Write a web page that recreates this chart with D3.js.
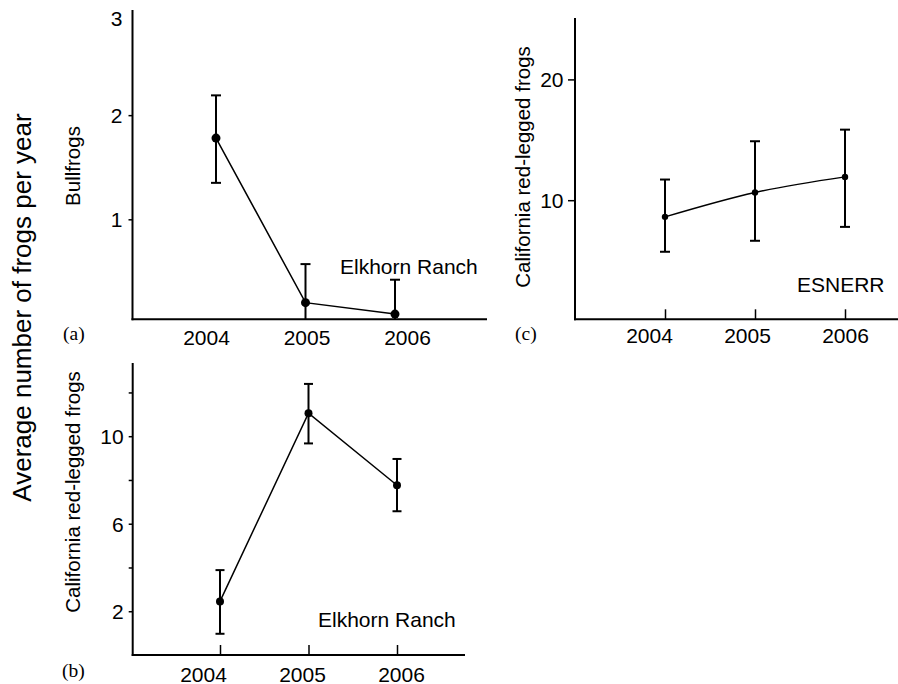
<!DOCTYPE html>
<html>
<head>
<meta charset="utf-8">
<script src="https://cdn.jsdelivr.net/npm/d3@7/dist/d3.min.js"></script>
<style>
  html, body { margin: 0; padding: 0; background: #fff; }
  svg { display: block; }
  text { fill: #000; }
</style>
</head>
<body>
<svg id="chart" width="898" height="684"></svg>
<script>
// ---------------- DATA ----------------
const years = [2004, 2005, 2006];

// (a) Bullfrogs, Elkhorn Ranch
const bullMean  = [1.78, 0.20, 0.09];
const bullUpper = [2.19, 0.57, 0.42];
const bullLower = [1.35, -0.17, -0.24];
const bullTicks = [1, 2, 3];
const bullTickLabels = [1, 2, 3];

// (b) California red-legged frogs, Elkhorn Ranch
const elkMean  = [2.45, 11.05, 7.76];
const elkUpper = [3.88, 12.39, 8.96];
const elkLower = [0.97, 9.67, 6.57];
const elkTicks = [2, 4, 6, 8, 10, 12];
const elkTickLabels = [2, 6, 10];

// (c) California red-legged frogs, ESNERR
const esMean  = [8.62, 10.64, 11.93];
const esUpper = [11.71, 14.88, 15.84];
const esLower = [5.73, 6.64, 7.79];
const esTicks = [10, 20];
const esTickLabels = [10, 20];

// ---------------- LAYOUT ----------------
const SANS = "'Liberation Sans', Arial, Helvetica, sans-serif";
const SERIF = "'Liberation Serif', 'Times New Roman', serif";
const svg = d3.select("#chart");

const panels = [
  {
    mean: bullMean, upper: bullUpper, lower: bullLower,
    ticks: bullTicks, tickLabels: bullTickLabels, tickMarks: [1, 2],
    yDomain: [0.04, 3], axisX: 132.5, axisY: 319.3, axisTop: 10, axisRight: 487,
    xTick: [216, 395], xLabel: [206, 407], xTickLen: 0, yTickLen: 4, yLabelGap: 10,
    tickBaseline: 345, r: 4.5, cap: 5, curve: d3.curveLinear,
    title: "Bullfrogs", titleX: 79.5, titleY: 166,
    note: "Elkhorn Ranch", noteX: 340, noteY: 274,
    tag: "(a)", tagX: 63, tagY: 340
  },
  {
    mean: elkMean, upper: elkUpper, lower: elkLower,
    ticks: elkTicks, tickLabels: elkTickLabels, tickMarks: elkTicks,
    yDomain: [0, 13.3], axisX: 132.7, axisY: 655, axisTop: 363, axisRight: 465,
    xTick: [220, 397], xLabel: [203, 401], xTickLen: 10, yTickLen: 4, yLabelGap: 9,
    tickBaseline: 681.5, r: 4, cap: 4.5, curve: d3.curveLinear,
    title: "California red-legged frogs", titleX: 79.5, titleY: 492,
    note: "Elkhorn Ranch", noteX: 318, noteY: 627,
    tag: "(b)", tagX: 62, tagY: 676.5
  },
  {
    mean: esMean, upper: esUpper, lower: esLower,
    ticks: esTicks, tickLabels: esTickLabels, tickMarks: esTicks,
    yDomain: [0.14, 25], axisX: 575, axisY: 319.3, axisTop: 18, axisRight: 898,
    xTick: [665, 845], xLabel: [649, 845], xTickLen: 10, yTickLen: 7, yLabelGap: 11.5,
    tickBaseline: 343, r: 3.2, cap: 5, curve: d3.curveMonotoneX,
    title: "California red-legged frogs", titleX: 529.5, titleY: 167,
    note: "ESNERR", noteX: 797, noteY: 291.5,
    tag: "(c)", tagX: 515, tagY: 340
  }
];

panels.forEach(p => {
  const g = svg.append("g");
  const x = d3.scaleLinear().domain([years[0], years[2]]).range(p.xTick);
  const xl = d3.scaleLinear().domain([years[0], years[2]]).range(p.xLabel);
  const y = d3.scaleLinear().domain(p.yDomain).range([p.axisY, p.axisTop + 1]);

  // axis lines
  g.append("line")
    .attr("x1", p.axisX).attr("x2", p.axisX)
    .attr("y1", p.axisTop).attr("y2", p.axisY + 1)
    .attr("stroke", "#000").attr("stroke-width", 2);
  g.append("line")
    .attr("x1", p.axisX - 1).attr("x2", p.axisRight)
    .attr("y1", p.axisY).attr("y2", p.axisY)
    .attr("stroke", "#000").attr("stroke-width", 2);

  // y axis ticks + labels
  const yAxis = d3.axisLeft(y)
    .tickValues(p.ticks)
    .tickSizeInner(p.yTickLen).tickSizeOuter(0)
    .tickPadding(p.yLabelGap - p.yTickLen)
    .tickFormat(d => p.tickLabels.includes(d) ? d3.format("d")(d) : "");
  const ya = g.append("g").attr("transform", `translate(${p.axisX},0)`).call(yAxis);
  ya.select(".domain").remove();
  ya.selectAll(".tick line").attr("stroke", "#000").attr("stroke-width", 1.5)
    .attr("display", d => p.tickMarks.includes(d) ? null : "none");
  ya.selectAll(".tick text")
    .attr("font-family", SANS).attr("font-size", 21).attr("fill", "#000")
    .attr("x", -p.yLabelGap)
    .attr("dy", function(d) {
      const ty = y(d);
      const minY = p.axisTop + 8;
      return ty < minY ? (minY - ty + 7) + "px" : "0.35em";
    });

  // x axis ticks + labels
  const xAxis = d3.axisBottom(x)
    .tickValues(years)
    .tickSizeInner(-p.xTickLen).tickSizeOuter(0)
    .tickFormat(d3.format("d"));
  const xa = g.append("g").attr("transform", `translate(0,${p.axisY})`).call(xAxis);
  xa.select(".domain").remove();
  xa.selectAll(".tick line").attr("stroke", "#000").attr("stroke-width", 1.5)
    .attr("display", p.xTickLen ? null : "none");
  xa.selectAll(".tick text")
    .attr("font-family", SANS).attr("font-size", 21).attr("fill", "#000")
    .attr("x", d => xl(d) - x(d))
    .attr("y", p.tickBaseline - p.axisY)
    .attr("dy", 0);

  // data
  const pts = years.map((yr, i) => ({ yr, m: p.mean[i], hi: p.upper[i], lo: p.lower[i] }));
  const yMin = p.yDomain[0];

  // error bars
  const eb = g.append("g").attr("stroke", "#000").attr("stroke-width", 2);
  pts.forEach(d => {
    const lo = Math.max(d.lo, yMin);
    eb.append("line").attr("x1", x(d.yr)).attr("x2", x(d.yr))
      .attr("y1", y(d.hi)).attr("y2", y(lo));
    eb.append("line").attr("x1", x(d.yr) - p.cap).attr("x2", x(d.yr) + p.cap)
      .attr("y1", y(d.hi)).attr("y2", y(d.hi));
    if (d.lo >= yMin) {
      eb.append("line").attr("x1", x(d.yr) - p.cap).attr("x2", x(d.yr) + p.cap)
        .attr("y1", y(d.lo)).attr("y2", y(d.lo));
    }
  });

  // connecting line
  const line = d3.line().x(d => x(d.yr)).y(d => y(d.m)).curve(p.curve);
  g.append("path").datum(pts)
    .attr("d", line).attr("fill", "none")
    .attr("stroke", "#000").attr("stroke-width", 1.5);

  // points
  g.selectAll("circle.pt").data(pts).join("circle")
    .attr("class", "pt")
    .attr("cx", d => x(d.yr)).attr("cy", d => y(d.m))
    .attr("r", p.r).attr("fill", "#000");

  // axis title (rotated)
  g.append("text")
    .attr("transform", `translate(${p.titleX},${p.titleY}) rotate(-90)`)
    .attr("text-anchor", "middle")
    .attr("font-family", SANS).attr("font-size", 20.5)
    .text(p.title);

  // site annotation
  g.append("text")
    .attr("x", p.noteX).attr("y", p.noteY)
    .attr("font-family", SANS).attr("font-size", 21)
    .text(p.note);

  // panel tag
  g.append("text")
    .attr("x", p.tagX).attr("y", p.tagY)
    .attr("font-family", SERIF).attr("font-size", 19.5)
    .text(p.tag);
});

// shared y-axis title
svg.append("text")
  .attr("transform", "translate(30.5,307.5) rotate(-90)")
  .attr("text-anchor", "middle")
  .attr("font-family", SANS).attr("font-size", 26)
  .text("Average number of frogs per year");
</script>
</body>
</html>
